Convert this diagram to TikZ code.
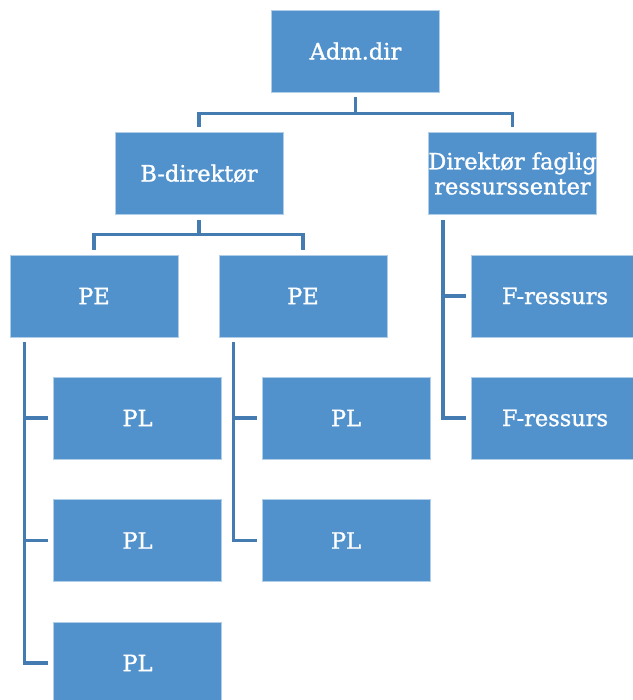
\documentclass[tikz,border=0pt]{standalone}
\usepackage{fontspec}
\setmainfont{DejaVu Serif}[FakeBold=1.2]
\definecolor{boxblue}{RGB}{81,146,205}
\definecolor{lineblue}{RGB}{68,124,178}
\begin{document}
\begin{tikzpicture}[x=1pt,y=-1pt,
  box/.style={rectangle, fill=boxblue, draw=white!55!boxblue, line width=0.8pt,
    minimum width=168pt, minimum height=82pt, inner sep=0pt, text=white,
    font=\fontsize{22.5}{25}\selectfont, align=center},
  conn/.style={draw=lineblue, line width=3.6pt, shorten <=5pt, shorten >=5pt}]
\useasboundingbox (0,0) rectangle (632,700);
\node[box] (adm) at (355.5,51) {Adm.dir};
\node[box] (bdir) at (199,173.5) {B-direktør};
\node[box] (dirf) at (512.5,173.5) {Direktør faglig\\ressurssenter};
\node[box] (pe1) at (94,296) {PE};
\node[box] (pe2) at (303,296) {PE};
\node[box] (pl11) at (137.5,418) {PL};
\node[box] (pl12) at (137.5,540.5) {PL};
\node[box] (pl13) at (137.5,663) {PL};
\node[box] (pl21) at (346,418) {PL};
\node[box] (pl22) at (346,540.5) {PL};
\node[box] (fr1) at (555,296) {F-ressurs};
\node[box] (fr2) at (555,418) {F-ressurs};
% connectors
\draw[conn] (adm.south) -- ++(0,21) -| (bdir.north);
\draw[conn] (adm.south) -- ++(0,21) -| (dirf.north);
\draw[conn] (bdir.south) -- ++(0,19.5) -| (pe1.north);
\draw[conn] (bdir.south) -- ++(0,19.5) -| (pe2.north);
\draw[conn] ([xshift=15pt]pe1.south west) |- (pl11.west);
\draw[conn] ([xshift=15pt]pe1.south west) |- (pl12.west);
\draw[conn] ([xshift=15pt]pe1.south west) |- (pl13.west);
\draw[conn] ([xshift=15pt]pe2.south west) |- (pl21.west);
\draw[conn] ([xshift=15pt]pe2.south west) |- (pl22.west);
\draw[conn] ([xshift=15pt]dirf.south west) |- (fr1.west);
\draw[conn] ([xshift=15pt]dirf.south west) |- (fr2.west);
\end{tikzpicture}
\end{document}
